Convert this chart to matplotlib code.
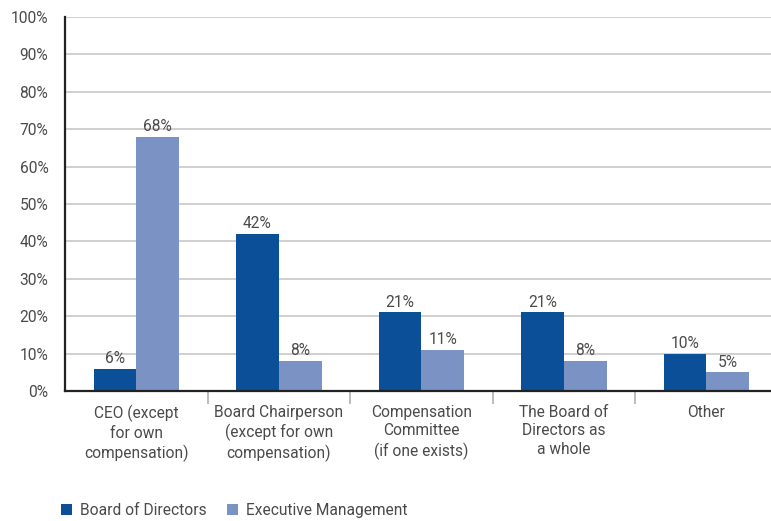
import numpy as np
import matplotlib.pyplot as plt

categories = ["CEO (except\nfor own\ncompensation)",
              "Board Chairperson\n(except for own\ncompensation)",
              "Compensation\nCommittee\n(if one exists)",
              "The Board of\nDirectors as\na whole",
              "Other"]
board = [6, 42, 21, 21, 10]
executive = [68, 8, 11, 8, 5]
series_names = ["Board of Directors", "Executive Management"]

dark = "#0a4f98"
light = "#7b93c4"
txt = "#4a4a4a"
fs = 11.2

plt.rcParams['font.family'] = ['Roboto', 'DejaVu Sans']
plt.rcParams['font.size'] = fs

fig = plt.figure(figsize=(7.71, 5.21), dpi=100)
ax = fig.add_axes([65/771, 130/521, 712.5/771, 374/521])

x = np.arange(len(categories))
w = 0.30
b1 = ax.bar(x - w/2, board, w, color=dark, label=series_names[0], zorder=3)
b2 = ax.bar(x + w/2, executive, w, color=light, label=series_names[1], zorder=3)

for bars, vals in [(b1, board), (b2, executive)]:
    for r, v in zip(bars, vals):
        ax.text(r.get_x() + r.get_width()/2, v + 0.7, f"{v}%", ha="center",
                va="bottom", color=txt, fontsize=fs, zorder=4)

ax.set_xlim(-0.5, len(categories) - 0.5)
ax.set_ylim(0, 100)
ax.set_yticks(range(0, 101, 10))
ax.set_yticklabels([f"{t}%" for t in range(0, 101, 10)], color=txt)
ax.yaxis.grid(True, color="#c8c8c8", linewidth=1.2, zorder=0)
ax.tick_params(axis="y", length=0, pad=12)

ax.set_xticks(x)
ax.set_xticklabels(categories, color=txt, linespacing=1.3)
ax.set_xticks(np.arange(0.5, len(categories) - 1, 1), minor=True)
ax.tick_params(axis="x", which="major", length=0, pad=10)
ax.tick_params(axis="x", which="minor", length=9, width=1.2, color="#b0b0b0")

for s in ["top", "right"]:
    ax.spines[s].set_visible(False)
for s in ["left", "bottom"]:
    ax.spines[s].set_color("#222222")
    ax.spines[s].set_linewidth(1.6)
    ax.spines[s].set_zorder(5)

fig.legend(handles=[b1, b2], labels=series_names, loc="lower left",
           bbox_to_anchor=(52/771, -0.012), ncol=2, frameon=False,
           handlelength=0.7, handleheight=0.7, handletextpad=0.5,
           columnspacing=1.3, labelcolor=txt, fontsize=fs, borderaxespad=0.2)

fig.savefig("out.png", dpi=100)
